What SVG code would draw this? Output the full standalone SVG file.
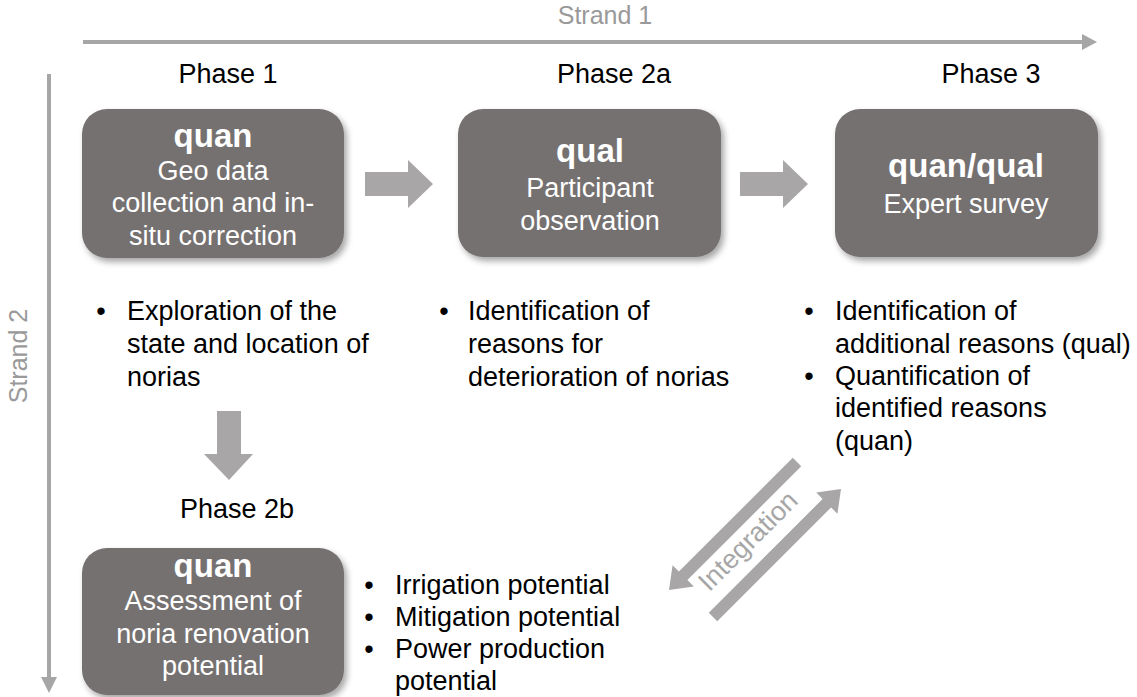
<svg xmlns="http://www.w3.org/2000/svg" width="1137" height="697" viewBox="0 0 1137 697">
<defs>
<filter id="sh" x="-10%" y="-10%" width="125%" height="130%">
<feDropShadow dx="3" dy="4" stdDeviation="3" flood-color="#000" flood-opacity="0.35"/>
</filter>
</defs>
<style>
text{font-family:"Liberation Sans",Arial,sans-serif;font-size:27px}
.box{fill:#767171;filter:url(#sh)}
.bt{fill:#fff;text-anchor:middle}
.bb{fill:#fff;text-anchor:middle;font-weight:bold;font-size:33px}
.lbl{fill:#000;text-anchor:middle}
.tx{fill:#000}
.bul{fill:#000;text-anchor:middle}
.gr{fill:#999;font-size:25px}
.arr{fill:#a8a6a6}
.line{stroke:#a6a6a6;stroke-width:4;fill:none}
</style>
<rect width="1137" height="697" fill="#fff"/>

<g id="strands">
<line class="line" x1="83" y1="42" x2="1084" y2="42"/>
<polygon fill="#a6a6a6" points="1082,34 1097,42 1082,50"/>
<text class="gr" x="605" y="24" text-anchor="middle">Strand 1</text>
<line class="line" x1="49" y1="74" x2="49" y2="679"/>
<polygon fill="#a6a6a6" points="41,677 49,693 57,677"/>
<text class="gr" transform="translate(27,356) rotate(-90)" text-anchor="middle">Strand 2</text>
</g>

<g id="connectors">
<polygon class="arr" points="365,172 408,172 408,160 433,184 408,208 408,196 365,196"/>
<polygon class="arr" points="740,172 783,172 783,160 808,184 783,208 783,196 740,196"/>
<polygon class="arr" points="217,411 241,411 241,454 253,454 229,480 204,454 217,454"/>
<polygon class="arr" transform="translate(797,462) rotate(135)" points="0,-6 161,-6 161,-15 181,0 161,15 161,6 0,6"/>
<polygon class="arr" transform="translate(713,617) rotate(-45)" points="0,-6 161,-6 161,-15 181,0 161,15 161,6 0,6"/>
<text transform="translate(748,541) rotate(-45)" text-anchor="middle" dy="9" fill="#a6a6a6">Integration</text>
</g>

<g id="phase1">
<text class="lbl" x="228" y="83">Phase 1</text>
<rect class="box" x="82" y="109" width="262" height="149" rx="25"/>
<text class="bb" x="213" y="147">quan</text>
<text class="bt" x="213" y="180">Geo data</text>
<text class="bt" x="213" y="212">collection and in-</text>
<text class="bt" x="213" y="245">situ correction</text>
<text class="bul" x="101" y="320">•</text>
<text class="tx" x="127" y="320">Exploration of the</text>
<text class="tx" x="127" y="353">state and location of</text>
<text class="tx" x="127" y="386">norias</text>
</g>

<g id="phase2a">
<text class="lbl" x="614" y="83">Phase 2a</text>
<rect class="box" x="458" y="109" width="263" height="148" rx="25"/>
<text class="bb" x="590" y="162">qual</text>
<text class="bt" x="590" y="197">Participant</text>
<text class="bt" x="590" y="230">observation</text>
<text class="bul" x="444" y="320">•</text>
<text class="tx" x="468" y="320">Identification of</text>
<text class="tx" x="468" y="353">reasons for</text>
<text class="tx" x="468" y="386">deterioration of norias</text>
</g>

<g id="phase3">
<text class="lbl" x="991" y="83">Phase 3</text>
<rect class="box" x="835" y="109" width="263" height="148" rx="25"/>
<text class="bb" x="966" y="177">quan/qual</text>
<text class="bt" x="966" y="213">Expert survey</text>
<text class="bul" x="809" y="320">•</text>
<text class="tx" x="835" y="320">Identification of</text>
<text class="tx" x="835" y="353">additional reasons (qual)</text>
<text class="bul" x="809" y="385">•</text>
<text class="tx" x="835" y="385">Quantification of</text>
<text class="tx" x="835" y="417">identified reasons</text>
<text class="tx" x="835" y="450">(quan)</text>
</g>

<g id="phase2b">
<text class="lbl" x="237" y="518">Phase 2b</text>
<rect class="box" x="82" y="548" width="262" height="147" rx="25"/>
<text class="bb" x="213" y="577">quan</text>
<text class="bt" x="213" y="610">Assessment of</text>
<text class="bt" x="213" y="643">noria renovation</text>
<text class="bt" x="213" y="675">potential</text>
<text class="bul" x="369" y="594">•</text>
<text class="tx" x="395" y="594">Irrigation potential</text>
<text class="bul" x="369" y="626">•</text>
<text class="tx" x="395" y="626">Mitigation potential</text>
<text class="bul" x="369" y="658">•</text>
<text class="tx" x="395" y="658">Power production</text>
<text class="tx" x="395" y="690">potential</text>
</g>
</svg>
